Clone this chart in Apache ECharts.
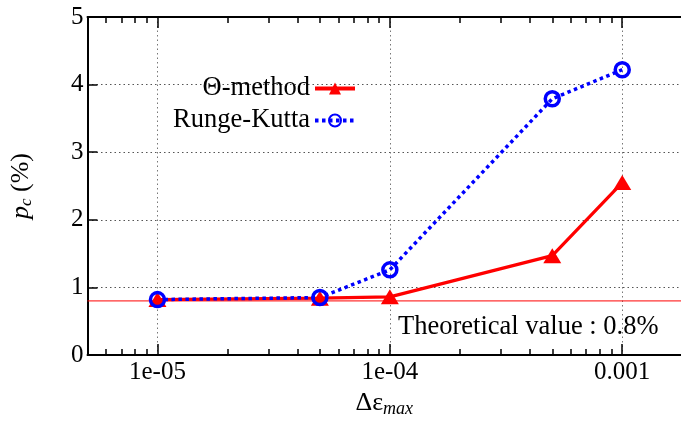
<!DOCTYPE html>
<html>
<head>
<meta charset="utf-8">
<script src="https://cdn.jsdelivr.net/npm/echarts@6/dist/echarts.min.js"></script>
<style>
    html, body { margin: 0; padding: 0; background: #fff; }
    #chart { width: 681px; height: 423px; }
</style>
</head>
<body>
<div id="chart"></div>
<script>
/*== data ==*/
var steps = [1e-5, 5e-5, 1e-4, 5e-4, 1e-3];           // Δε_max
var thetaMethod = [0.82, 0.84, 0.86, 1.47, 2.55];      // Θ-method, p_c (%)
var rungeKutta = [0.82, 0.85, 1.26, 3.79, 4.22];       // Runge-Kutta, p_c (%)
var theoretical = 0.8;

var xMajor = [1e-5, 1e-4, 1e-3];
var xMajorLabels = ['1e-05', '1e-04', '0.001'];
var xMinor = [6e-6, 7e-6, 8e-6, 9e-6,
              2e-5, 3e-5, 4e-5, 5e-5, 6e-5, 7e-5, 8e-5, 9e-5,
              2e-4, 3e-4, 4e-4, 5e-4, 6e-4, 7e-4, 8e-4, 9e-4];
var xMin = 5e-6;
var xMax = 1.79e-3;

var serif = '"Liberation Serif", "DejaVu Serif", serif';

function pairs(xs, ys) {
    var out = [];
    for (var i = 0; i < xs.length; i++) {
        out.push([xs[i], ys[i]]);
    }
    return out;
}

function xLabel(v) {
    for (var i = 0; i < xMajor.length; i++) {
        if (Math.abs(Math.log10(v) - Math.log10(xMajor[i])) < 1e-6) {
            return xMajorLabels[i];
        }
    }
    return '';
}

// one log x axis; several of them are stacked to get major/minor ticks top and bottom
function makeXAxis(position, ticks, tickLen, main) {
    return {
        type: 'log',
        logBase: 10,
        min: xMin,
        max: xMax,
        position: position,
        axisLine: { show: main, onZero: false, lineStyle: { color: '#000', width: 2 } },
        axisTick: { show: true, inside: true, length: tickLen, customValues: ticks,
                    lineStyle: { color: '#000', width: 1.5 } },
        axisLabel: { show: main && position === 'bottom', customValues: xMajor, formatter: xLabel,
                     color: '#000', fontSize: 25, fontFamily: serif, margin: 5 },
        splitLine: { show: main && position === 'bottom',
                     lineStyle: { color: '#777', width: 1, type: [1.5, 3] } },
        name: (main && position === 'bottom') ? '{n|Δε}{s|max}' : '',
        nameLocation: 'middle',
        nameGap: 33,
        nameTextStyle: {
            rich: {
                n: { fontSize: 26, fontFamily: serif, color: '#000' },
                s: { fontSize: 18, fontFamily: serif, fontStyle: 'italic', color: '#000',
                     verticalAlign: 'bottom', padding: [12, 0, 0, 0] }
            }
        }
    };
}

var option = {
    animation: false,
    backgroundColor: '#fff',
    grid: { left: 85, right: 0, top: 17, bottom: 61 },
    legend: {
        orient: 'vertical',
        align: 'right',
        right: 319,
        top: 70,
        itemWidth: 40,
        itemHeight: 15,
        itemGap: 5,
        selectedMode: false,
        textStyle: { fontSize: 26.5, fontFamily: serif, color: '#000' },
        data: [
            { name: 'Θ-method', lineStyle: { width: 4 } },
            { name: 'Runge-Kutta', lineStyle: { width: 4 } }
        ]
    },
    xAxis: [
        makeXAxis('bottom', xMajor, 11, true),
        makeXAxis('bottom', xMinor, 6, false),
        makeXAxis('top', xMajor, 11, true),
        makeXAxis('top', xMinor, 6, false)
    ],
    yAxis: {
        type: 'value',
        min: 0,
        max: 5,
        interval: 1,
        axisLine: { show: true, onZero: false, lineStyle: { color: '#000', width: 2 } },
        axisTick: { show: true, inside: true, length: 10, lineStyle: { color: '#000', width: 1.5 } },
        axisLabel: { color: '#000', fontSize: 25, fontFamily: serif, margin: 4 },
        splitLine: { show: true, lineStyle: { color: '#555', width: 1, type: [1.5, 3] } },
        name: '{i|p}{s|c}{n| (%)}',
        nameLocation: 'middle',
        nameGap: 52,
        nameTextStyle: {
            rich: {
                i: { fontSize: 26, fontFamily: serif, fontStyle: 'italic', color: '#000' },
                s: { fontSize: 17, fontFamily: serif, fontStyle: 'italic', color: '#000',
                     verticalAlign: 'bottom', padding: [12, 0, 0, 0] },
                n: { fontSize: 26, fontFamily: serif, color: '#000' }
            }
        }
    },
    graphic: [{
        type: 'text',
        left: 398,
        top: 314,
        style: { text: 'Theoretical value : 0.8%', font: '26.5px ' + serif, fill: '#000' }
    }],
    series: [
        {
            // theoretical value, thin red line across the whole plot
            name: 'theory',
            type: 'line',
            data: [[xMin, theoretical], [xMax, theoretical]],
            showSymbol: false,
            silent: true,
            z: 1,
            lineStyle: { color: '#ff0000', width: 1 }
        },
        {
            name: 'Θ-method',
            type: 'line',
            data: pairs(steps, thetaMethod),
            symbol: 'triangle',
            symbolSize: [18, 15],
            itemStyle: { color: '#ff0000' },
            lineStyle: { color: '#ff0000', width: 3.2 }
        },
        {
            name: 'Runge-Kutta',
            type: 'line',
            data: pairs(steps, rungeKutta),
            symbol: 'circle',
            symbolSize: 14,
            itemStyle: { color: 'rgba(0,0,0,0)', borderColor: '#0000ff', borderWidth: 3.5 },
            lineStyle: { color: '#0000ff', width: 3.5, type: [3.5, 3.5] }
        }
    ]
};

var myChart = echarts.init(document.getElementById('chart'), null, { renderer: 'canvas' });
myChart.setOption(option);
</script>
</body>
</html>
